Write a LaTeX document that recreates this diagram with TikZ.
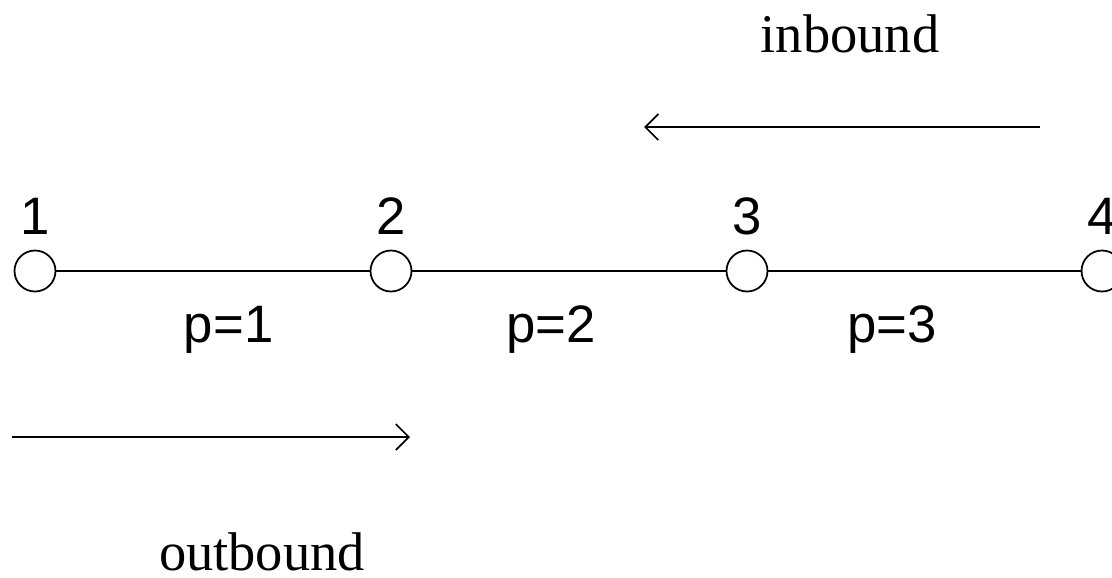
\documentclass[tikz,border=0pt]{standalone}
\usepackage{fontspec}
\setmainfont{Liberation Serif}
\setsansfont{Liberation Sans}
\usetikzlibrary{arrows.meta, positioning}

\begin{document}
\begin{tikzpicture}[
    line width=0.5pt,
    vertex/.style={draw, circle, fill=white, minimum size=0.41cm, inner sep=0pt},
    numlabel/.style={font=\sffamily\fontsize{15}{18}\selectfont, inner sep=0pt, yshift=0.14cm},
    plabel/.style={font=\sffamily\fontsize{15}{18}\selectfont, inner sep=0pt, below=0.34cm},
    dirlabel/.style={font=\fontsize{15.5}{18}\selectfont, anchor=base, inner sep=0pt},
    arrow/.style={-{Straight Barb[length=1.3mm, width=2.6mm]}},
]
\useasboundingbox (0,0) rectangle (11.12,-5.77);

% Stations on the line
\node[vertex, label={[numlabel]above:1}] (n1) at (0.35,-2.71) {};
\node[vertex, label={[numlabel]above:2}] (n2) at (3.91,-2.71) {};
\node[vertex, label={[numlabel]above:3}] (n3) at (7.47,-2.71) {};
\node[vertex, label={[numlabel]above:4}] (n4) at (11.02,-2.71) {};

\draw (n1) -- node[plabel, pos=0.55] (p1) {p=1} (n2);
\draw (n2) -- node[plabel, pos=0.443] (p2) {p=2} (n3);
\draw (n3) -- node[plabel, pos=0.396] (p3) {p=3} (n4);

% Directions
\coordinate (inS) at (10.40,-1.27);
\coordinate (inE) at (6.44,-1.27);
\coordinate (outS) at (0.12,-4.37);
\coordinate (outE) at (4.10,-4.37);
\draw[arrow] (inS) -- (inE);
\draw[arrow] (outS) -- (outE);

\node[dirlabel] (inbound) at (8.50,-0.52) {inbound};
\node[dirlabel] (outbound) at (2.62,-5.70) {outbound};
\end{tikzpicture}
\end{document}
